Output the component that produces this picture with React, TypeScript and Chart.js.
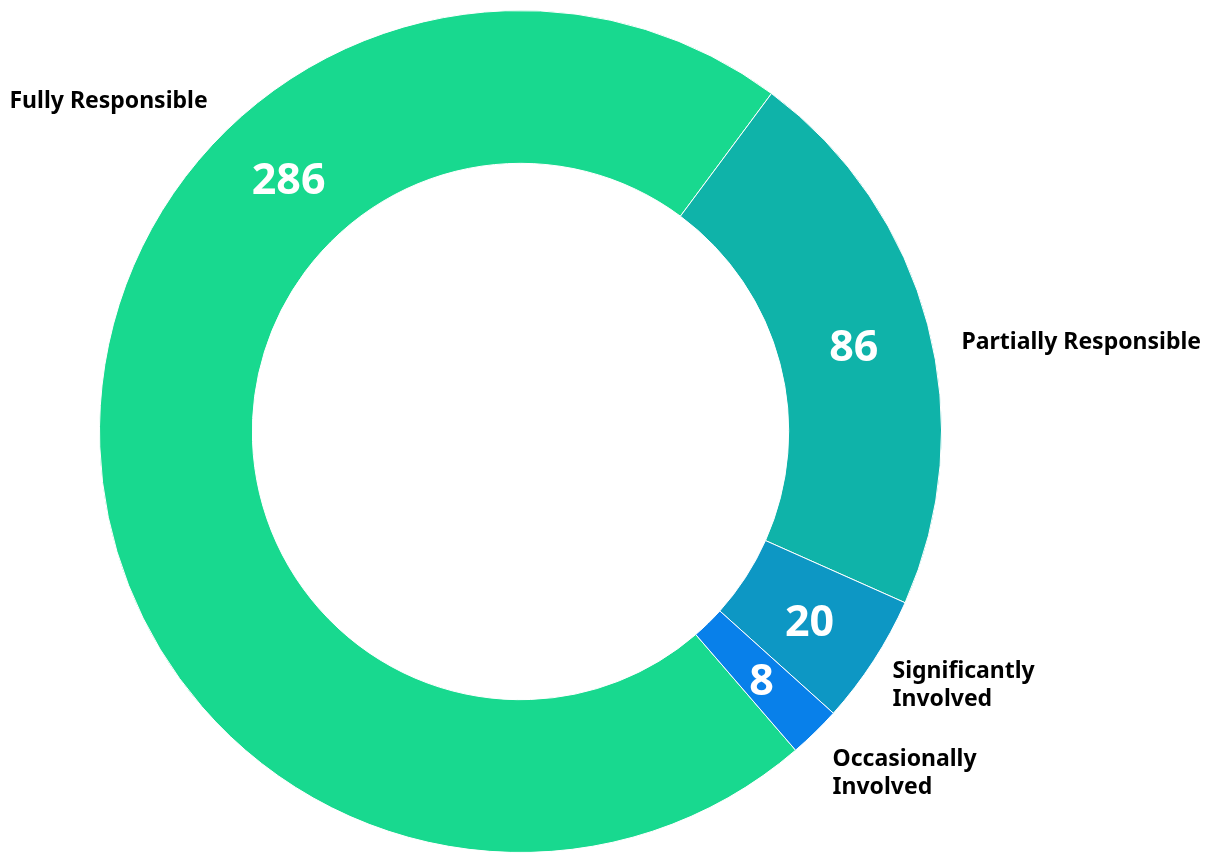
import React, { useEffect, useRef } from "react";
import { Chart, registerables } from "chart.js";

Chart.register(...registerables);

const categories = ["Fully Responsible", "Partially Responsible", "Significantly Involved", "Occasionally Involved"];
const values = [286, 86, 20, 8];
const colors = ["#18D98F", "#0FB3A9", "#0D97C4", "#0880EA"];
// outside label lines
const labelLines = [["Fully Responsible"], ["Partially Responsible"], ["Significantly", "Involved"], ["Occasionally", "Involved"]];

const FONT = "'Noto Sans', 'DejaVu Sans', sans-serif";

const labelPlugin = {
  id: "ringLabels",
  afterDatasetsDraw(chart: any) {
    const ctx = chart.ctx;
    const meta = chart.getDatasetMeta(0);
    const arcs = meta.data;
    if (!arcs.length) return;
    const cx = arcs[0].x;
    const cy = arcs[0].y;
    const R = arcs[0].outerRadius;
    const r = arcs[0].innerRadius;
    const mid = (R + r) / 2;
    ctx.save();
    // value labels
    ctx.fillStyle = "#ffffff";
    ctx.font = `700 43px ${FONT}`;
    ctx.textAlign = "center";
    ctx.textBaseline = "middle";
    arcs.forEach((arc: any, i: number) => {
      let a = (arc.startAngle + arc.endAngle) / 2;
      if (i === 0) a = -Math.PI / 2 - (42.3 * Math.PI) / 180;
      ctx.fillText(String(values[i]), cx + Math.cos(a) * mid, cy + Math.sin(a) * mid + 5);
    });
    // outside labels (positions relative to ring center, in units of outer radius)
    const anchors = [
      [-1.2138, -0.7838],
      [1.0475, -0.2114],
      [0.8836, 0.604],
      [0.7411, 0.812],
    ];
    ctx.fillStyle = "#000000";
    ctx.font = `700 23px ${FONT}`;
    ctx.textAlign = "left";
    const lh = 28;
    anchors.forEach((p, i) => {
      const lines = labelLines[i];
      const x = cx + p[0] * R;
      const y0 = cy + p[1] * R - ((lines.length - 1) * lh) / 2;
      lines.forEach((t, j) => ctx.fillText(t, x, y0 + j * lh));
    });
    ctx.restore();
  },
};

export default function App() {
  const ref = useRef<HTMLCanvasElement>(null);
  useEffect(() => {
    if (!ref.current) return;
    const chart = new Chart(ref.current, {
      type: "doughnut",
      data: {
        labels: categories,
        datasets: [
          {
            data: values,
            backgroundColor: colors,
            borderColor: "#ffffff",
            borderWidth: 1,
          },
        ],
      },
      options: {
        responsive: false,
        animation: false,
        cutout: "63.7%",
        rotation: 139.2,
        layout: { padding: { left: 98, right: 269, top: 10, bottom: 0 } },
        plugins: {
          legend: { display: false },
          tooltip: { enabled: false },
        },
      },
      plugins: [labelPlugin],
    });
    return () => chart.destroy();
  }, []);
  return (
    <div style={{ position: "absolute", left: 0, top: 0, width: 1212, height: 853, background: "#fff" }}>
      <canvas ref={ref} width={1212} height={853} />
    </div>
  );
}
